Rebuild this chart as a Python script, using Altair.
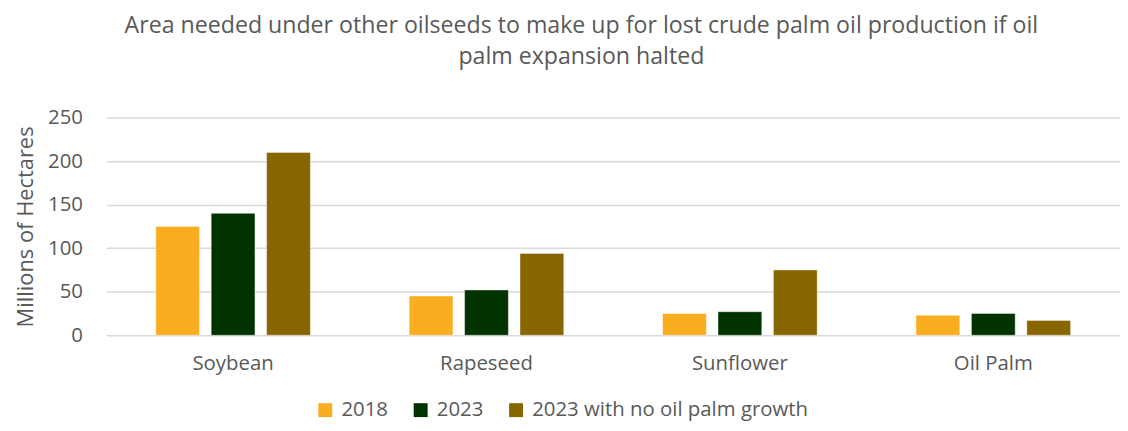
import altair as alt
import pandas as pd

crops = ["Soybean", "Rapeseed", "Sunflower", "Oil Palm"]
series = ["2018", "2023", "2023 with no oil palm growth"]
v2018 = [125, 45, 25, 23]
v2023 = [140, 52, 27, 25]
vnogrowth = [210, 94, 75, 17]
colors = ["#F9AE22", "#013301", "#876600"]

rows = []
for i, c in enumerate(crops):
    for s, vals in zip(series, [v2018, v2023, vnogrowth]):
        rows.append({"crop": c, "series": s, "value": vals[i]})
df = pd.DataFrame(rows)

FONT = "Open Sans"
GREY = "#595959"

chart = alt.Chart(df).mark_bar(stroke="white", strokeWidth=0.8, strokeOpacity=0.5).encode(
    x=alt.X("crop:N", sort=crops, title=None,
            scale=alt.Scale(paddingInner=0.39, paddingOuter=0.195),
            axis=alt.Axis(labelAngle=0, labelFontSize=20.5, labelColor=GREY, labelFont=FONT,
                          ticks=False, domain=False, labelPadding=18)),
    xOffset=alt.XOffset("series:N", sort=series, scale=alt.Scale(paddingInner=0.21, paddingOuter=0)),
    y=alt.Y("value:Q", title="Millions of Hectares",
            scale=alt.Scale(domain=[0, 250]),
            axis=alt.Axis(values=[0, 50, 100, 150, 200, 250], ticks=False, domain=False,
                          labelFontSize=20.5, labelColor=GREY, labelFont=FONT, labelPadding=24,
                          titleFontSize=22, titleColor=GREY, titleFont=FONT, titleFontWeight="normal",
                          titlePadding=10, gridColor="#d9d9d9", gridWidth=1.5)),
    color=alt.Color("series:N", sort=series, title=None,
                    scale=alt.Scale(domain=series, range=colors),
                    legend=alt.Legend(orient="none", legendX=210, legendY=284, direction="horizontal",
                                      symbolType="square", symbolSize=196, symbolStrokeWidth=0,
                                      labelFontSize=20.5, labelColor=GREY, labelFont=FONT,
                                      labelLimit=500, columnPadding=22, labelOffset=6)),
).properties(
    width=1020,
    height=219,
    padding={"left": 99, "top": 109, "right": 0, "bottom": 87},
    autosize=alt.AutoSizeParams(type="none"),
    title=alt.TitleParams(
        text=["Area needed under other oilseeds to make up for lost crude palm oil production if oil",
              "palm expansion halted"],
        fontSize=23.3, font=FONT, color=GREY, fontWeight="normal", anchor="middle",
        dx=-32, offset=39, lineHeight=31,
    ),
).configure_view(stroke=None)

chart.save("out.html", embed_options={"renderer": "svg", "actions": False})
